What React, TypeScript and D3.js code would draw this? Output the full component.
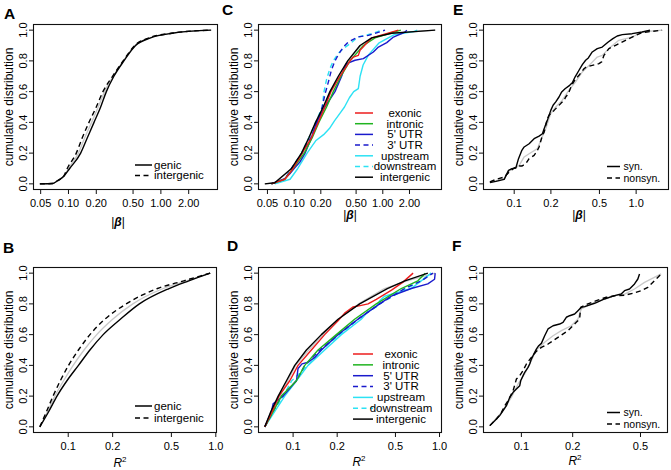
import React from "react";
import * as d3 from "d3";

type Pt = [number, number];

// ---------------- data (x value, cumulative proportion) ----------------
// Panel A: |beta|
const A_genic: Pt[] = [[0.049,0],[0.067,0.002],[0.076,0.02],[0.089,0.05],[0.103,0.1],[0.1355,0.2],[0.16,0.3],[0.189,0.4],[0.223,0.5],[0.257,0.6],[0.31,0.7],[0.398,0.8],[0.532,0.9],[0.774,0.95],[1.33,0.98],[3.5,1.0]];
const A_intergenic: Pt[] = [[0.049,0],[0.067,0.002],[0.076,0.02],[0.089,0.05],[0.097,0.1],[0.1216,0.2],[0.141,0.3],[0.1667,0.4],[0.2,0.5],[0.236,0.6],[0.3,0.7],[0.39,0.8],[0.52,0.9],[0.74,0.95],[1.3,0.98],[3.5,1.0]];
const A_all: Pt[] = [[0.049,0],[0.067,0.002],[0.076,0.02],[0.089,0.05],[0.1,0.1],[0.128,0.2],[0.15,0.3],[0.178,0.4],[0.21,0.5],[0.246,0.6],[0.305,0.7],[0.395,0.8],[0.525,0.9],[0.76,0.95],[1.3,0.98],[3.5,1.0]];

// Panel B: R^2
const B_genic: Pt[] = [[0.0642,0],[0.0738,0.1],[0.0839,0.2],[0.098,0.3],[0.1173,0.4],[0.1403,0.5],[0.1725,0.6],[0.2255,0.7],[0.3035,0.8],[0.482,0.9],[0.656,0.95],[0.916,1]];
const B_intergenic: Pt[] = [[0.0642,0],[0.0713,0.1],[0.0789,0.2],[0.0884,0.3],[0.1005,0.4],[0.1173,0.5],[0.1403,0.6],[0.177,0.7],[0.247,0.8],[0.4027,0.9],[0.607,0.95],[0.916,1]];
const B_all: Pt[] = [[0.0642,0],[0.0725,0.1],[0.0812,0.2],[0.093,0.3],[0.108,0.4],[0.128,0.5],[0.156,0.6],[0.2,0.7],[0.274,0.8],[0.44,0.9],[0.63,0.95],[0.916,1]];

// Panel C: |beta| by annotation
const C_exonic: Pt[] = [[0.0555,0],[0.0785,0.03],[0.0975,0.1],[0.123,0.2],[0.157,0.3],[0.187,0.4],[0.2222,0.5],[0.26,0.6],[0.329,0.7],[0.4266,0.8],[0.4655,0.825],[0.53,0.836],[0.5537,0.869],[0.578,0.88],[0.75,0.95],[1.5,1.0]];
const C_intronic: Pt[] = [[0.0555,0],[0.0785,0.03],[0.0975,0.1],[0.13,0.2],[0.16,0.3],[0.19,0.4],[0.2323,0.5],[0.2765,0.6],[0.3375,0.7],[0.4266,0.8],[0.604,0.9],[0.818,0.95],[1.2,0.98],[1.6,1.0]];
const C_utr5: Pt[] = [[0.0555,0.001],[0.0785,0.034],[0.0895,0.066],[0.1,0.099],[0.116,0.142],[0.132,0.196],[0.157,0.3],[0.179,0.4],[0.2222,0.5],[0.2533,0.55],[0.289,0.6],[0.3433,0.7],[0.368,0.75],[0.391,0.782],[0.486,0.804],[0.604,0.815],[0.783,0.858],[0.892,0.89],[1.109,0.919],[1.318,0.955],[1.787,0.988],[1.866,1.0]];
const C_utr3: Pt[] = [[0.0555,0],[0.0785,0.03],[0.0934,0.1],[0.123,0.2],[0.1545,0.3],[0.1837,0.4],[0.2074,0.5],[0.2222,0.58],[0.2427,0.66],[0.2633,0.74],[0.289,0.8],[0.315,0.84],[0.359,0.89],[0.4085,0.923],[0.53,0.956],[0.688,0.966],[1.06,1.0]];
const C_upstream: Pt[] = [[0.0605,0],[0.09,0.03],[0.11,0.1],[0.14,0.2],[0.175,0.28],[0.215,0.32],[0.25,0.36],[0.285,0.41],[0.33,0.46],[0.37,0.5],[0.42,0.56],[0.47,0.6],[0.53,0.62],[0.555,0.7],[0.6,0.773],[0.69,0.839],[0.9,0.915],[1.33,0.969],[2.24,0.991],[2.45,1.0]];
const C_downstream: Pt[] = [[0.0555,0],[0.0785,0.03],[0.0934,0.1],[0.121,0.2],[0.1466,0.3],[0.175,0.4],[0.2074,0.5],[0.2174,0.6],[0.2323,0.68],[0.2533,0.75],[0.2765,0.8],[0.315,0.85],[0.359,0.88],[0.4266,0.912],[0.53,0.956],[0.75,0.977],[0.973,1.0]];
const C_intergenic: Pt[] = [[0.0467,0],[0.0605,0.007],[0.0934,0.1],[0.121,0.2],[0.1466,0.3],[0.1744,0.4],[0.213,0.5],[0.2533,0.6],[0.315,0.7],[0.4017,0.8],[0.5537,0.9],[0.75,0.95],[1.26,0.98],[3.9,1.0]];
const C_all: Pt[] = [[0.0467,0],[0.0605,0.007],[0.095,0.1],[0.124,0.2],[0.15,0.3],[0.178,0.4],[0.216,0.5],[0.257,0.6],[0.32,0.7],[0.41,0.8],[0.565,0.9],[0.77,0.95],[1.3,0.98],[3.9,1]];

// Panel D: R^2 by annotation
const D_exonic: Pt[] = [[0.0641,0],[0.0705,0.08],[0.08,0.2],[0.0949,0.3],[0.1081,0.4],[0.1333,0.5],[0.1643,0.6],[0.2027,0.69],[0.225,0.74],[0.256,0.78],[0.292,0.79],[0.325,0.8],[0.37,0.83],[0.47,0.89],[0.56,0.94],[0.66,1.0]];
const D_intronic: Pt[] = [[0.0641,0],[0.0712,0.08],[0.0832,0.2],[0.1054,0.3],[0.1201,0.4],[0.148,0.5],[0.1973,0.6],[0.263,0.7],[0.37,0.8],[0.548,0.9],[0.711,0.95],[0.8,1.0]];
const D_utr5: Pt[] = [[0.0641,0],[0.0712,0.1],[0.073,0.15],[0.0855,0.2],[0.1054,0.3],[0.1081,0.38],[0.115,0.41],[0.1265,0.42],[0.14,0.45],[0.156,0.5],[0.2027,0.6],[0.277,0.7],[0.39,0.8],[0.4677,0.85],[0.641,0.9],[0.832,0.93],[0.925,0.96],[0.934,1.0]];
const D_utr3: Pt[] = [[0.0641,0],[0.073,0.1],[0.0832,0.2],[0.1054,0.3],[0.1201,0.4],[0.152,0.5],[0.2027,0.6],[0.277,0.7],[0.39,0.8],[0.577,0.9],[0.75,0.95],[0.901,1.0]];
const D_upstream: Pt[] = [[0.0641,0],[0.075,0.1],[0.0877,0.2],[0.1054,0.3],[0.1265,0.4],[0.1643,0.5],[0.2136,0.6],[0.292,0.7],[0.3245,0.75],[0.37,0.78],[0.39,0.82],[0.4217,0.85],[0.641,0.9],[0.75,0.95],[0.877,1.0]];
const D_downstream: Pt[] = [[0.0641,0],[0.073,0.1],[0.0855,0.2],[0.0978,0.3],[0.1265,0.4],[0.156,0.5],[0.208,0.6],[0.277,0.7],[0.39,0.8],[0.593,0.9],[0.75,0.95],[0.877,1.0]];
const D_intergenic: Pt[] = [[0.0641,0],[0.0705,0.1],[0.0791,0.2],[0.0901,0.3],[0.1026,0.4],[0.1233,0.5],[0.156,0.6],[0.2027,0.7],[0.285,0.8],[0.44,0.9],[0.58,0.95],[0.832,1.0]];
const D_all: Pt[] = [[0.0641,0],[0.071,0.1],[0.081,0.2],[0.092,0.3],[0.104,0.4],[0.128,0.5],[0.16,0.6],[0.205,0.7],[0.28,0.8],[0.42,0.9],[0.6,0.95],[0.934,1]];

// Panel E: |beta| syn / nonsyn
const E_syn: Pt[] = [[0.0632,0.008],[0.0708,0.016],[0.0828,0.029],[0.0899,0.088],[0.0957,0.099],[0.1032,0.103],[0.1085,0.164],[0.1156,0.218],[0.1207,0.24],[0.1326,0.261],[0.1457,0.294],[0.16,0.311],[0.1705,0.326],[0.176,0.359],[0.187,0.413],[0.1995,0.478],[0.2084,0.511],[0.2192,0.533],[0.233,0.565],[0.2452,0.598],[0.2612,0.619],[0.285,0.641],[0.2997,0.658],[0.3153,0.695],[0.34,0.739],[0.362,0.776],[0.3853,0.804],[0.4055,0.819],[0.4367,0.858],[0.48,0.88],[0.527,0.89],[0.5905,0.923],[0.6447,0.945],[0.6995,0.962],[0.769,0.971],[0.927,0.977],[1.12,0.988],[1.3,1.0]];
const E_nonsyn: Pt[] = [[0.0632,0.012],[0.0708,0.029],[0.0828,0.044],[0.091,0.077],[0.1,0.103],[0.1099,0.116],[0.1156,0.116],[0.1245,0.131],[0.1326,0.164],[0.1457,0.185],[0.155,0.218],[0.16,0.24],[0.1705,0.316],[0.176,0.337],[0.187,0.424],[0.193,0.446],[0.2123,0.478],[0.226,0.5],[0.2406,0.522],[0.2563,0.543],[0.2644,0.565],[0.278,0.587],[0.296,0.641],[0.319,0.684],[0.34,0.706],[0.3736,0.749],[0.39,0.76],[0.4367,0.771],[0.4955,0.782],[0.521,0.793],[0.5445,0.836],[0.598,0.88],[0.6775,0.901],[0.8185,0.934],[0.988,0.966],[1.12,0.984],[1.352,0.992],[1.633,1.0]];
const E_all: Pt[] = [[0.0632,0.01],[0.0828,0.035],[0.091,0.085],[0.1032,0.105],[0.1099,0.12],[0.1207,0.175],[0.1326,0.196],[0.155,0.229],[0.1651,0.283],[0.1815,0.359],[0.1995,0.457],[0.2192,0.5],[0.2474,0.543],[0.2803,0.608],[0.319,0.663],[0.362,0.728],[0.4112,0.771],[0.48,0.825],[0.527,0.836],[0.598,0.88],[0.7205,0.934],[0.927,0.955],[1.12,0.988],[1.633,1.0]];

// Panel F: R^2 syn / nonsyn
const F_syn: Pt[] = [[0.0653,0.008],[0.0698,0.04],[0.0746,0.073],[0.0781,0.105],[0.0817,0.138],[0.0855,0.192],[0.0894,0.225],[0.0935,0.246],[0.0978,0.268],[0.0991,0.3],[0.1023,0.333],[0.1046,0.355],[0.1094,0.387],[0.1119,0.409],[0.1144,0.441],[0.1197,0.485],[0.1224,0.506],[0.1264,0.528],[0.131,0.543],[0.137,0.593],[0.1433,0.637],[0.1534,0.658],[0.1678,0.669],[0.1755,0.68],[0.1835,0.713],[0.192,0.723],[0.2054,0.734],[0.2148,0.756],[0.2247,0.778],[0.235,0.782],[0.269,0.804],[0.3077,0.832],[0.352,0.854],[0.3853,0.864],[0.403,0.886],[0.431,0.897],[0.4613,0.93],[0.4825,0.962],[0.4935,0.995]];
const F_nonsyn: Pt[] = [[0.0653,0.008],[0.0714,0.051],[0.0764,0.094],[0.0799,0.138],[0.0836,0.17],[0.0894,0.235],[0.0935,0.311],[0.0978,0.333],[0.1023,0.366],[0.107,0.409],[0.1144,0.452],[0.1224,0.491],[0.131,0.517],[0.1433,0.539],[0.164,0.582],[0.1876,0.626],[0.21,0.68],[0.2197,0.702],[0.2227,0.778],[0.2457,0.8],[0.2752,0.821],[0.315,0.843],[0.3605,0.854],[0.4034,0.856],[0.4516,0.869],[0.505,0.886],[0.552,0.908],[0.604,0.951],[0.661,0.995]];
const F_all: Pt[] = [[0.0653,0.008],[0.0764,0.094],[0.0874,0.192],[0.0956,0.279],[0.1046,0.344],[0.1144,0.431],[0.1224,0.5],[0.137,0.55],[0.1534,0.593],[0.1716,0.626],[0.1963,0.658],[0.2148,0.702],[0.2247,0.767],[0.2571,0.8],[0.3077,0.832],[0.352,0.854],[0.4034,0.864],[0.4613,0.897],[0.528,0.94],[0.661,0.995]];

// ticks & labels
const betaTicks = [0.05, 0.1, 0.2, 0.5, 1, 2];
const betaTicksE = [0.1, 0.2, 0.5, 1];
const r2Ticks = [0.1, 0.2, 0.5, 1];
const r2TicksF = [0.1, 0.2, 0.5];
const yTicks = [0, 0.2, 0.4, 0.6, 0.8, 1];
const yLabel = "cumulative distribution";
const legendGenic = ["genic", "intergenic"];
const legendAnno = ["exonic", "intronic", "5' UTR", "3' UTR", "upstream", "downstream", "intergenic"];
const legendSyn = ["syn.", "nonsyn."];

// ---------------- styling ----------------
const FONT = "'Liberation Sans', Arial, Helvetica, sans-serif";
const RED = "#EC1C1C", GREEN = "#20B420", BLUE = "#1A1ACC", CYAN = "#2CE2F4", GRAY = "#C8C8C8", BLACK = "#000";
const DASH = "5,3.5";

interface Series { data: Pt[]; color: string; dash?: string; }
interface Legend { labels: string[]; colors: string[]; dashes: (string | undefined)[]; lx0: number; lx1: number; tx: number; anchor: string; ry0: number; dy: number; fs: number; }
interface Cfg {
  letter: string; lx: number; ly: number;
  box: [number, number, number, number];
  series: Series[]; smooth: boolean;
  xTicks: number[]; xDigits: number;
  xlab: "beta" | "r2"; xlabX: number; xlabY: number;
  legend: Legend;
}

const annoColors = [RED, GREEN, BLUE, BLUE, CYAN, CYAN, BLACK];
const annoDashes = [undefined, undefined, undefined, DASH, undefined, DASH, undefined];

const panels: Cfg[] = [
  {
    letter: "A", lx: 4, ly: 18.5, box: [33, 24, 218, 190], smooth: true,
    series: [
      { data: A_all, color: GRAY },
      { data: A_genic, color: BLACK },
      { data: A_intergenic, color: BLACK, dash: DASH },
    ],
    xTicks: betaTicks, xDigits: 2, xlab: "beta", xlabX: 118, xlabY: 226,
    legend: { labels: legendGenic, colors: [BLACK, BLACK], dashes: [undefined, DASH], lx0: 135, lx1: 152, tx: 154, anchor: "start", ry0: 165, dy: 10.5, fs: 11.5 },
  },
  {
    letter: "C", lx: 222, ly: 14.5, box: [258, 24, 442, 190], smooth: false,
    series: [
      { data: C_all, color: GRAY },
      { data: C_upstream, color: CYAN },
      { data: C_downstream, color: CYAN, dash: DASH },
      { data: C_utr5, color: BLUE },
      { data: C_utr3, color: BLUE, dash: DASH },
      { data: C_intronic, color: GREEN },
      { data: C_exonic, color: RED },
      { data: C_intergenic, color: BLACK },
    ],
    xTicks: betaTicks, xDigits: 2, xlab: "beta", xlabX: 350, xlabY: 219,
    legend: { labels: legendAnno, colors: annoColors, dashes: annoDashes, lx0: 355, lx1: 373, tx: 405, anchor: "middle", ry0: 113, dy: 10.7, fs: 11.5 },
  },
  {
    letter: "E", lx: 453, ly: 15, box: [483, 24, 669, 190], smooth: false,
    series: [
      { data: E_all, color: GRAY },
      { data: E_syn, color: BLACK },
      { data: E_nonsyn, color: BLACK, dash: DASH },
    ],
    xTicks: betaTicksE, xDigits: 1, xlab: "beta", xlabX: 579, xlabY: 219,
    legend: { labels: legendSyn, colors: [BLACK, BLACK], dashes: [undefined, DASH], lx0: 607, lx1: 620, tx: 623.5, anchor: "start", ry0: 166.5, dy: 11.5, fs: 10.5 },
  },
  {
    letter: "B", lx: 3, ly: 252.5, box: [33, 267, 217, 433], smooth: true,
    series: [
      { data: B_all, color: GRAY },
      { data: B_genic, color: BLACK },
      { data: B_intergenic, color: BLACK, dash: DASH },
    ],
    xTicks: r2Ticks, xDigits: 1, xlab: "r2", xlabX: 120, xlabY: 467,
    legend: { labels: legendGenic, colors: [BLACK, BLACK], dashes: [undefined, DASH], lx0: 135, lx1: 152, tx: 154, anchor: "start", ry0: 406, dy: 12, fs: 11.5 },
  },
  {
    letter: "D", lx: 227, ly: 251, box: [258, 267, 442, 433], smooth: false,
    series: [
      { data: D_all, color: GRAY },
      { data: D_upstream, color: CYAN },
      { data: D_downstream, color: CYAN, dash: DASH },
      { data: D_utr5, color: BLUE },
      { data: D_utr3, color: BLUE, dash: DASH },
      { data: D_intronic, color: GREEN },
      { data: D_exonic, color: RED },
      { data: D_intergenic, color: BLACK },
    ],
    xTicks: r2Ticks, xDigits: 1, xlab: "r2", xlabX: 359, xlabY: 466,
    legend: { labels: legendAnno, colors: annoColors, dashes: annoDashes, lx0: 353, lx1: 373, tx: 401, anchor: "middle", ry0: 354, dy: 10.85, fs: 11.5 },
  },
  {
    letter: "F", lx: 452, ly: 251, box: [483, 267, 668, 433], smooth: false,
    series: [
      { data: F_all, color: GRAY },
      { data: F_syn, color: BLACK },
      { data: F_nonsyn, color: BLACK, dash: DASH },
    ],
    xTicks: r2TicksF, xDigits: 1, xlab: "r2", xlabX: 575, xlabY: 465,
    legend: { labels: legendSyn, colors: [BLACK, BLACK], dashes: [undefined, DASH], lx0: 607, lx1: 620, tx: 623.5, anchor: "start", ry0: 412.5, dy: 11.5, fs: 10.5 },
  },
];

function Panel({ cfg }: { cfg: Cfg }) {
  const [x0, y0, x1, y1] = cfg.box;
  const allX = cfg.series.flatMap((s) => s.data.map((d) => d[0]));
  const lmin = Math.log10(d3.min(allX) as number);
  const lmax = Math.log10(d3.max(allX) as number);
  const pad = (lmax - lmin) * 0.04;
  const x = d3.scaleLog().domain([Math.pow(10, lmin - pad), Math.pow(10, lmax + pad)]).range([x0, x1]);
  const y = d3.scaleLinear().domain([-0.04, 1.04]).range([y1, y0]);
  const line = d3
    .line<Pt>()
    .x((d) => x(d[0]))
    .y((d) => y(d[1]))
    .curve(cfg.smooth ? d3.curveMonotoneX : d3.curveLinear);
  const tickFs = 11;
  const labFs = 12;
  const lg = cfg.legend;
  return (
    <g>
      <text x={cfg.lx} y={cfg.ly} fontSize={15.5} fontWeight="bold" fontFamily={FONT}>{cfg.letter}</text>
      {cfg.series.map((s, i) => (
        <path key={i} d={line(s.data) || ""} fill="none" stroke={s.color} strokeWidth={s.color === GRAY ? 1.3 : 1.4}
          strokeDasharray={s.dash} strokeLinejoin="round" />
      ))}
      <rect x={x0 + 0.5} y={y0 + 0.5} width={x1 - x0 - 1} height={y1 - y0 - 1} fill="none" stroke="#111" strokeWidth={1.1} />
      {cfg.xTicks.map((t) => (
        <g key={"x" + t}>
          <line x1={x(t)} x2={x(t)} y1={y1} y2={y1 + 4} stroke="#111" strokeWidth={1} />
          <text x={x(t)} y={y1 + 17} fontSize={tickFs} textAnchor="middle" fontFamily={FONT}>{t.toFixed(cfg.xDigits)}</text>
        </g>
      ))}
      {yTicks.map((t) => (
        <g key={"y" + t}>
          <line x1={x0 - 4} x2={x0} y1={y(t)} y2={y(t)} stroke="#111" strokeWidth={1} />
          <text transform={`translate(${x0 - 6},${y(t)}) rotate(-90)`} fontSize={tickFs} textAnchor="middle" fontFamily={FONT}>{t.toFixed(1)}</text>
        </g>
      ))}
      <text transform={`translate(${x0 - 20},${(y0 + y1) / 2}) rotate(-90)`} fontSize={labFs} textAnchor="middle" fontFamily={FONT}>{yLabel}</text>
      {cfg.xlab === "beta" ? (
        <text x={cfg.xlabX} y={cfg.xlabY} fontSize={labFs} textAnchor="middle" fontFamily={FONT}>
          |<tspan fontWeight="bold" fontStyle="italic">β</tspan>|
        </text>
      ) : (
        <text x={cfg.xlabX} y={cfg.xlabY} fontSize={labFs} textAnchor="middle" fontFamily={FONT}>
          <tspan fontStyle="italic">R</tspan><tspan fontSize={8} dy={-5}>2</tspan>
        </text>
      )}
      {lg.labels.map((lab, i) => {
        const ry = lg.ry0 + i * lg.dy;
        return (
          <g key={"lg" + i}>
            <line x1={lg.lx0} x2={lg.lx1} y1={ry} y2={ry} stroke={lg.colors[i]} strokeWidth={1.5} strokeDasharray={lg.dashes[i]} />
            <text x={lg.tx} y={ry + 3.8} fontSize={lg.fs} textAnchor={lg.anchor} fontFamily={FONT}>{lab}</text>
          </g>
        );
      })}
    </g>
  );
}

export default function App() {
  return (
    <svg width={671} height={470} viewBox="0 0 671 470" style={{ display: "block", position: "absolute", left: 0, top: 0, background: "#fff" }}>
      <rect x={0} y={0} width={671} height={470} fill="#fff" />
      {panels.map((p) => (
        <Panel key={p.letter} cfg={p} />
      ))}
    </svg>
  );
}
